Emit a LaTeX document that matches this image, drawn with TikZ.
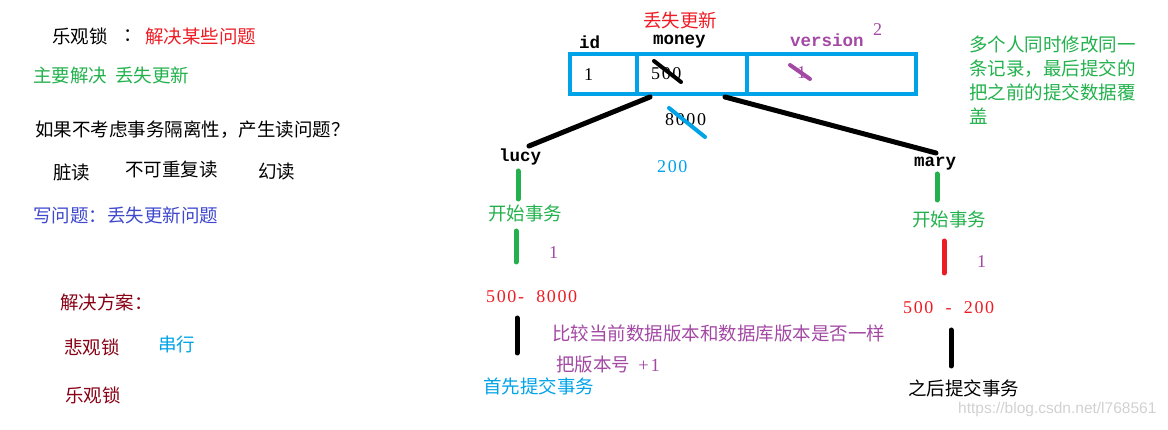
\documentclass[tikz,border=0pt]{standalone}
\usepackage{fontspec}
\setmainfont{Liberation Serif}
\newfontfamily\cjk{Noto Sans CJK SC}
\newfontfamily\monof{Liberation Mono}
\newfontfamily\wmf{Liberation Sans}
\newfontfamily\digf[LetterSpace=9]{Liberation Serif}
\definecolor{pred}{HTML}{ED1C24}
\definecolor{pgreen}{HTML}{22B14C}
\definecolor{pblue}{HTML}{3F48CC}
\definecolor{pdark}{HTML}{880015}
\definecolor{pcyan}{HTML}{00A2E8}
\definecolor{ppurple}{HTML}{A349A4}
\begin{document}
\begin{tikzpicture}[x=1pt,y=-1pt,
  every node/.style={inner sep=0pt,anchor=west},
  cn/.style={font=\cjk\fontsize{18.5}{22}\selectfont},
  lat/.style={font=\digf\fontsize{18}{22}\selectfont},
  mono/.style={font=\monof\bfseries\fontsize{17.5}{20}\selectfont},
  cell/.style={draw=pcyan,line width=4pt,anchor=north west,minimum height=40pt},
  conn/.style={line width=5pt,line cap=round},
  strike/.style={line width=4pt,line cap=round}]
\useasboundingbox (0,0) rectangle (1168,430);
% left column texts
\node[cn] (lg1) at (52,36) {乐观锁};
\node[cn] (colon) at (123,36) {：};
\node[cn,text=pred] (solve) at (145,36) {解决某些问题};
\node[cn,text=pgreen] (main) at (33,75) {主要解决\ \ 丢失更新};
\node[cn] (q) at (35,130) {如果不考虑事务隔离性，产生读问题？};
\node[cn] (dirty) at (53,172) {脏读};
\node[cn] (nonrep) at (125,170) {不可重复读};
\node[cn] (phantom) at (258,172) {幻读};
\node[cn,text=pblue] (write) at (33,215) {写问题：丢失更新问题};
\node[cn,text=pdark] (plan) at (60,302) {解决方案：};
\node[cn,text=pdark] (pess) at (64,347) {悲观锁};
\node[cn,text=pcyan] (serial) at (158,344) {串行};
\node[cn,text=pdark] (opt) at (65,395) {乐观锁};
% table
\node[cn,text=pred] (lost) at (643,20) {丢失更新};
\node[mono] (hid) at (579,42) {id};
\node[mono] (hmoney) at (653,42) {money};
\node[mono,text=ppurple] (hver) at (790,40) {version};
\node[lat,text=ppurple] (v2) at (873,30) {2};
\node[cell,minimum width=67pt] (c1) at (568,52) {};
\node[cell,minimum width=110pt] (c2) at (635,52) {};
\node[cell,minimum width=169pt] (c3) at (745,52) {};
\node[lat] (v1) at (584,75) {1};
\node[lat] (v500) at (651,74) {500};
\node[lat,text=ppurple] (vv1) at (797,73) {1};
\draw[strike] (654,61) -- (681,82);
\draw[strike,ppurple] (790,65) -- (810,79);
\node[lat] (v8000) at (665,120) {8000};
\draw[strike,pcyan] (669,108) -- (705,137);
\node[lat,text=pcyan] (v200) at (657,167) {200};
% branches
\coordinate (tl) at (650,97);
\coordinate (tr) at (725,97);
\coordinate (ll) at (529,146);
\coordinate (rr) at (936,153);
\draw[conn] (tl) -- (ll);
\draw[conn] (tr) -- (rr);
\node[mono] (lucy) at (499,157) {lucy};
\node[mono] (mary) at (914,164) {mary};
% lucy column
\coordinate (a1) at (518,171);
\coordinate (a2) at (518,199);
\draw[conn,pgreen] (a1) -- (a2);
\node[cn,text=pgreen] (ls) at (488,214) {开始事务};
\coordinate (a3) at (516,231);
\coordinate (a4) at (516,262);
\draw[conn,pgreen] (a3) -- (a4);
\node[lat,text=ppurple] (l1) at (549,253) {1};
\node[lat,text=pred] (lcalc) at (486,297) {500-\ \ 8000};
\coordinate (a5) at (517,318);
\coordinate (a6) at (517,353);
\draw[conn] (a5) -- (a6);
\node[cn,text=ppurple] (cmp) at (552,333) {比较当前数据版本和数据库版本是否一样};
\node[cn,text=ppurple] (inc) at (556,364) {把版本号\ \ {\digf +1}};
\node[cn,text=pcyan] (lcommit) at (483,386) {首先提交事务};
% mary column
\coordinate (b1) at (937,174);
\coordinate (b2) at (937,200);
\draw[conn,pgreen] (b1) -- (b2);
\node[cn,text=pgreen] (ms) at (912,219) {开始事务};
\coordinate (b3) at (944,241);
\coordinate (b4) at (944,273);
\draw[conn,pred] (b3) -- (b4);
\node[lat,text=ppurple] (m1) at (977,262) {1};
\node[lat,text=pred] (mcalc) at (903,308) {500\ \ -\ \ 200};
\coordinate (b5) at (951,330);
\coordinate (b6) at (951,366);
\draw[conn] (b5) -- (b6);
\node[cn] (mcommit) at (908,388) {之后提交事务};
% note
\node[cn,text=pgreen,align=left,anchor=north west,font=\cjk\fontsize{18.5}{24}\selectfont] (note) at (969,36) {多个人同时修改同一\\条记录，最后提交的\\把之前的提交数据覆\\盖};
% watermark
\node[font=\wmf\fontsize{15.5}{18}\selectfont,text=black!18] (wm) at (958,409) {https://blog.csdn.net/l768561};
\end{tikzpicture}
\end{document}
